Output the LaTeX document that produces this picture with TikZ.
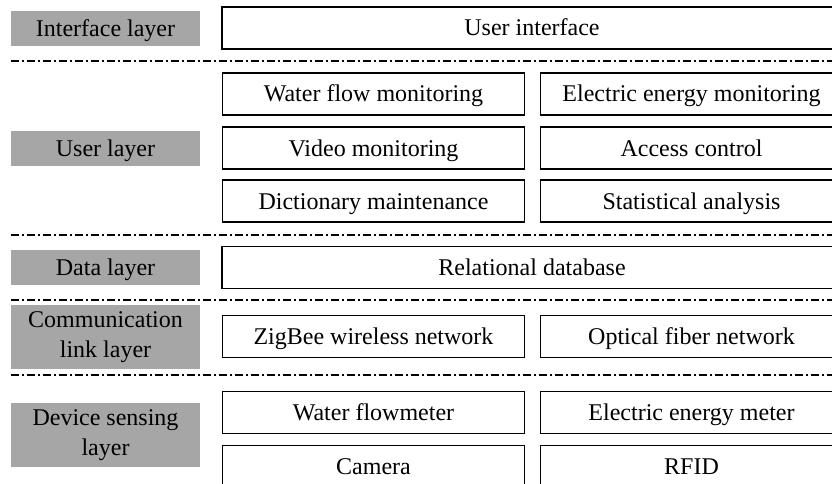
\documentclass[tikz,border=0pt]{standalone}
\usepackage{fontspec}
\setmainfont{Liberation Serif}
\definecolor{layergray}{HTML}{A6A6A6}

\begin{document}
\begin{tikzpicture}[x=1pt, y=-1pt, font=\fontsize{24}{30}\selectfont,
    oneline/.style = {text height=17pt, text depth=1pt},
    layer/.style = {fill=layergray, minimum width=189pt, minimum height=35pt, inner sep=0pt, align=center},
    wide/.style = {draw, line width=1.5pt, minimum width=620pt, minimum height=42pt, inner sep=0pt, oneline},
    half/.style = {draw, line width=1.5pt, minimum width=302pt, minimum height=42pt, inner sep=0pt, oneline},
    sep/.style = {line width=1.5pt, dash pattern=on 8pt off 3pt on 2pt off 3pt}]
    \useasboundingbox (0, 0) rectangle (832, 484);
    \clip (0, 0) rectangle (832, 484);

    % Layers
    \node[layer, oneline] (interface) at (105.5, 28.5) {Interface layer};
    \node[layer, oneline] (user) at (105.5, 148.5) {User layer};
    \node[layer, oneline] (data) at (105.5, 267) {Data layer};
    \node[layer, minimum height=64pt] (comm) at (105.5, 337) {Communication\\link layer};
    \node[layer, minimum height=64pt] (device) at (105.5, 435) {Device sensing\\layer};

    % Boxes
    \node[wide] (ui) at (532, 28) {User interface};

    \node[half] (water) at (373.5, 94) {Water flow monitoring};
    \node[half] (electric) at (691.5, 94) {Electric energy monitoring};
    \node[half] (video) at (373.5, 148) {Video monitoring};
    \node[half] (access) at (691.5, 148) {Access control};
    \node[half] (dict) at (373.5, 201) {Dictionary maintenance};
    \node[half] (stat) at (691.5, 201) {Statistical analysis};

    \node[wide] (db) at (532, 267.5) {Relational database};

    \node[half] (zigbee) at (373.5, 336.5) {ZigBee wireless network};
    \node[half] (fiber) at (691.5, 336.5) {Optical fiber network};

    \node[half] (flowmeter) at (373.5, 412.5) {Water flowmeter};
    \node[half] (energymeter) at (691.5, 412.5) {Electric energy meter};
    \node[half] (camera) at (373.5, 466.5) {Camera};
    \node[half] (rfid) at (691.5, 466.5) {RFID};

    % Separators
    \draw[sep] (11, 61) -- (832, 61);
    \draw[sep] (11, 235) -- (832, 235);
    \draw[sep] (11, 300) -- (832, 300);
    \draw[sep] (11, 375) -- (832, 375);
\end{tikzpicture}
\end{document}
